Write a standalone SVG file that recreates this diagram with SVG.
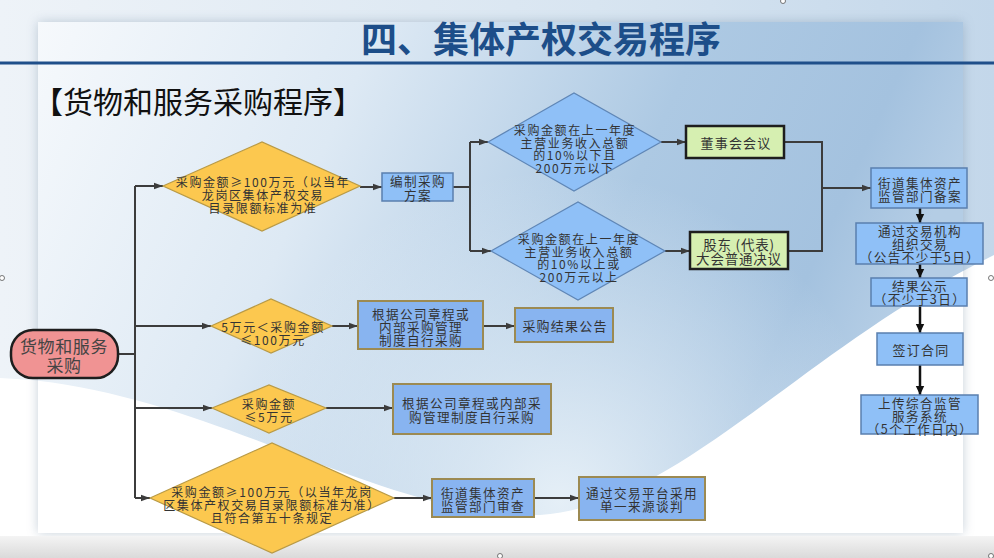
<svg xmlns="http://www.w3.org/2000/svg" width="994" height="558" viewBox="0 0 994 558">
<style>
.t{font-family:"Noto Sans CJK SC","Noto Sans CJK JP",sans-serif;font-size:12px;fill:#333;text-anchor:middle;dominant-baseline:central;letter-spacing:1.6px}
.m{font-size:12.6px;letter-spacing:1.4px}
.yd{fill:#fcc84f;stroke:#b99a45;stroke-width:1.2}
.bd{fill:#8fc0f7;stroke:#5f86b6;stroke-width:1.2}
.bb{fill:#8fc0f7;stroke:#5a7fae;stroke-width:1.5}
.ob{fill:#88b4f0;stroke:#9c8a52;stroke-width:2}
.gb{fill:#d6efb1;stroke:#1e1e1e;stroke-width:2.5}
.c{fill:none;stroke:#3c3c3c;stroke-width:2}
.k{fill:none;stroke:#111;stroke-width:2.5}
.h{fill:#fff;stroke:#555;stroke-width:0.8}
</style>
<defs>
<linearGradient id="og" x1="0" y1="0" x2="1" y2="0">
<stop offset="0" stop-color="#eef3f8"/><stop offset="0.6" stop-color="#d8e5f1"/><stop offset="1" stop-color="#c3d7ea"/>
</linearGradient>
<linearGradient id="pg" x1="0" y1="0" x2="1" y2="0.25">
<stop offset="0" stop-color="#f6f9fc"/><stop offset="0.35" stop-color="#dde9f4"/><stop offset="0.68" stop-color="#adc9e3"/><stop offset="0.9" stop-color="#a4c2df"/><stop offset="1" stop-color="#b4cde5"/>
</linearGradient>
<radialGradient id="rg" cx="560" cy="500" r="330" gradientUnits="userSpaceOnUse">
<stop offset="0" stop-color="#e8f1f8" stop-opacity="0.95"/><stop offset="1" stop-color="#e8f1f8" stop-opacity="0"/>
</radialGradient>
<linearGradient id="bg2" x1="0" y1="0" x2="0" y2="1">
<stop offset="0" stop-color="#f4f4f4"/><stop offset="1" stop-color="#dadada"/>
</linearGradient>
<clipPath id="pc"><rect x="38" y="22" width="925" height="511"/></clipPath>
<filter id="sh" x="-5%" y="-5%" width="110%" height="110%"><feGaussianBlur stdDeviation="6"/></filter>
<marker id="a" markerUnits="userSpaceOnUse" markerWidth="10" markerHeight="8" refX="9" refY="4" orient="auto"><path d="M0,0.8 L9,4 L0,7.2 z" fill="#3c3c3c"/></marker>
<marker id="b" markerUnits="userSpaceOnUse" markerWidth="10" markerHeight="10" refX="9" refY="5" orient="auto"><path d="M0,0.8 L9,5 L0,9.2 z" fill="#111"/></marker>
</defs>

<g id="background">
<rect x="0" y="0" width="994" height="558" fill="url(#og)"/>
<path d="M0,378 C200,385 380,520 540,515 C680,505 800,350 994,255 L994,558 L0,558 Z" fill="#ffffff"/>
<rect x="38" y="22" width="925" height="511" fill="#5f7a94" opacity="0.35" filter="url(#sh)"/>
<rect x="38" y="22" width="925" height="511" fill="url(#pg)"/>
<g clip-path="url(#pc)">
<rect x="38" y="22" width="925" height="511" fill="url(#rg)"/>
<path d="M0,378 C200,385 380,520 540,515 C680,505 800,350 994,255 L994,558 L0,558 Z" fill="#ffffff"/>
</g>
<rect x="0" y="536" width="994" height="22" fill="url(#bg2)"/>
<line x1="0" y1="63" x2="994" y2="63" stroke="#1f4f8a" stroke-width="3"/>
<text x="541" y="37" style="font-family:'Noto Sans CJK SC',sans-serif;font-size:36px;font-weight:bold;fill:#1d4e89;text-anchor:middle;dominant-baseline:central">四、集体产权交易程序</text>
<text x="33" y="100" style="font-family:'Noto Sans CJK SC',sans-serif;font-size:30px;fill:#111;dominant-baseline:central">【货物和服务采购程序】</text>
<circle class="h" cx="783" cy="1" r="2.5"/>
<circle class="h" cx="2" cy="278" r="2.5"/>
<circle class="h" cx="991" cy="278" r="2.5"/>
<circle class="h" cx="500" cy="556" r="2.5"/>
<circle class="h" cx="991" cy="556" r="2.5"/>
</g>

<g id="connectors">
<polyline class="c" points="118,354 135,354"/>
<polyline class="c" points="135,186 135,498"/>
<line class="c" x1="135" y1="186" x2="163" y2="186" marker-end="url(#a)"/>
<line class="c" x1="135" y1="326" x2="211" y2="326" marker-end="url(#a)"/>
<line class="c" x1="135" y1="408" x2="212" y2="408" marker-end="url(#a)"/>
<line class="c" x1="135" y1="498" x2="150" y2="498" marker-end="url(#a)"/>
<line class="c" x1="360" y1="187" x2="382" y2="187" marker-end="url(#a)"/>
<polyline class="c" points="453,187 470,187"/>
<polyline class="c" points="470,142 470,251"/>
<line class="c" x1="470" y1="142" x2="488" y2="142" marker-end="url(#a)"/>
<line class="c" x1="470" y1="251" x2="491" y2="251" marker-end="url(#a)"/>
<line class="c" x1="661" y1="142" x2="686" y2="142" marker-end="url(#a)"/>
<line class="c" x1="665" y1="251" x2="690" y2="251" marker-end="url(#a)"/>
<polyline class="c" points="784,142 822,142 822,251 788,251"/>
<line class="c" x1="822" y1="188" x2="871" y2="188" marker-end="url(#a)"/>
<line class="k" x1="920" y1="208" x2="920" y2="223" marker-end="url(#b)"/>
<line class="k" x1="920" y1="264" x2="920" y2="278" marker-end="url(#b)"/>
<line class="k" x1="920" y1="306" x2="920" y2="333" marker-end="url(#b)"/>
<line class="k" x1="920" y1="365" x2="920" y2="395" marker-end="url(#b)"/>
<line class="c" x1="332" y1="326" x2="358" y2="326" marker-end="url(#a)"/>
<line class="c" x1="483" y1="326" x2="515" y2="326" marker-end="url(#a)"/>
<line class="c" x1="326" y1="408" x2="393" y2="408" marker-end="url(#a)"/>
<line class="c" x1="394" y1="498" x2="432" y2="498" marker-end="url(#a)"/>
<line class="c" x1="534" y1="498" x2="579" y2="498" marker-end="url(#a)"/>
</g>

<g id="start">
<rect x="11" y="330" width="107" height="48" rx="22" fill="#f09393" stroke="#1e1e1e" stroke-width="2.5"/>
<text class="t" style="font-size:17px;letter-spacing:0.6px;fill:#444"><tspan x="64" y="345">货物和服务</tspan><tspan x="64" y="364">采购</tspan></text>
</g>

<g id="d1">
<polygon class="yd" points="163,186 262,142 360,186 262,231"/>
<text class="t"><tspan x="263" y="181">采购金额≥100万元（以当年</tspan><tspan x="263" y="194">龙岗区集体产权交易</tspan><tspan x="263" y="207">目录限额标准为准</tspan></text>
</g>

<g id="plan">
<rect class="bb" x="382" y="173" width="71" height="28"/>
<text class="t m"><tspan x="418" y="180">编制采购</tspan><tspan x="418" y="194">方案</tspan></text>
</g>

<g id="dA">
<polygon class="bd" points="488,142 574,93 661,142 574,191"/>
<text class="t"><tspan x="575" y="129">采购金额在上一年度</tspan><tspan x="575" y="142">主营业务收入总额</tspan><tspan x="575" y="154">的10%以下且</tspan><tspan x="575" y="167">200万元以下</tspan></text>
</g>

<g id="dB">
<polygon class="bd" points="491,251 578,202 665,251 578,300"/>
<text class="t"><tspan x="579" y="238">采购金额在上一年度</tspan><tspan x="579" y="251">主营业务收入总额</tspan><tspan x="579" y="263">的10%以上或</tspan><tspan x="579" y="276">200万元以上</tspan></text>
</g>

<g id="g1">
<rect class="gb" x="686" y="126" width="98" height="32"/>
<text class="t" x="736" y="142" style="font-size:13px;letter-spacing:1.2px">董事会会议</text>
</g>

<g id="g2">
<rect class="gb" x="690" y="232" width="98" height="37"/>
<text class="t" style="font-size:13.5px;letter-spacing:0.8px"><tspan x="739" y="244">股东 (代表)</tspan><tspan x="739" y="258">大会普通决议</tspan></text>
</g>

<g id="r1">
<rect class="bb" x="871" y="168" width="96" height="40"/>
<text class="t m"><tspan x="920" y="182">街道集体资产</tspan><tspan x="920" y="195">监管部门备案</tspan></text>
</g>

<g id="r2">
<rect class="bb" x="856" y="223" width="127" height="41"/>
<text class="t m"><tspan x="920" y="230">通过交易机构</tspan><tspan x="920" y="243">组织交易</tspan><tspan x="920" y="256">（公告不少于5日）</tspan></text>
</g>

<g id="r3">
<rect class="bb" x="871" y="278" width="96" height="28"/>
<text class="t m"><tspan x="920" y="285">结果公示</tspan><tspan x="920" y="298">（不少于3日）</tspan></text>
</g>

<g id="r4">
<rect class="bb" x="877" y="333" width="86" height="32"/>
<text class="t" x="921" y="349" style="font-size:13px;letter-spacing:1.2px">签订合同</text>
</g>

<g id="r5">
<rect class="bb" x="861" y="395" width="117" height="39"/>
<text class="t m"><tspan x="920" y="402">上传综合监管</tspan><tspan x="920" y="415">服务系统</tspan><tspan x="920" y="428">（5个工作日内）</tspan></text>
</g>

<g id="d2">
<polygon class="yd" points="211,326 271,299 332,326 271,353"/>
<text class="t"><tspan x="273" y="326">5万元＜采购金额</tspan><tspan x="273" y="339">≤100万元</tspan></text>
</g>

<g id="b2">
<rect class="ob" x="358" y="301" width="125" height="48"/>
<text class="t m"><tspan x="421" y="313">根据公司章程或</tspan><tspan x="421" y="326">内部采购管理</tspan><tspan x="421" y="339">制度自行采购</tspan></text>
</g>

<g id="b2b">
<rect class="ob" x="515" y="308" width="98" height="34"/>
<text class="t" x="565" y="325" style="font-size:13px;letter-spacing:1.2px">采购结果公告</text>
</g>

<g id="d3">
<polygon class="yd" points="212,408 269,385 326,408 269,433"/>
<text class="t"><tspan x="269" y="403">采购金额</tspan><tspan x="269" y="416">≤5万元</tspan></text>
</g>

<g id="b3">
<rect class="ob" x="393" y="384" width="158" height="50"/>
<text class="t m"><tspan x="472" y="402">根据公司章程或内部采</tspan><tspan x="472" y="416">购管理制度自行采购</tspan></text>
</g>

<g id="d4">
<polygon class="yd" points="150,498 272,443 394,498 272,553"/>
<text class="t"><tspan x="272" y="491">采购金额≥100万元（以当年龙岗</tspan><tspan x="272" y="504">区集体产权交易目录限额标准为准）</tspan><tspan x="272" y="517">且符合第五十条规定</tspan></text>
</g>

<g id="b4">
<rect class="ob" x="432" y="479" width="102" height="38"/>
<text class="t m"><tspan x="483" y="492">街道集体资产</tspan><tspan x="483" y="505">监管部门审查</tspan></text>
</g>

<g id="b4b">
<rect class="ob" x="579" y="477" width="126" height="43"/>
<text class="t m"><tspan x="642" y="492">通过交易平台采用</tspan><tspan x="642" y="505">单一来源谈判</tspan></text>
</g>
</svg>
